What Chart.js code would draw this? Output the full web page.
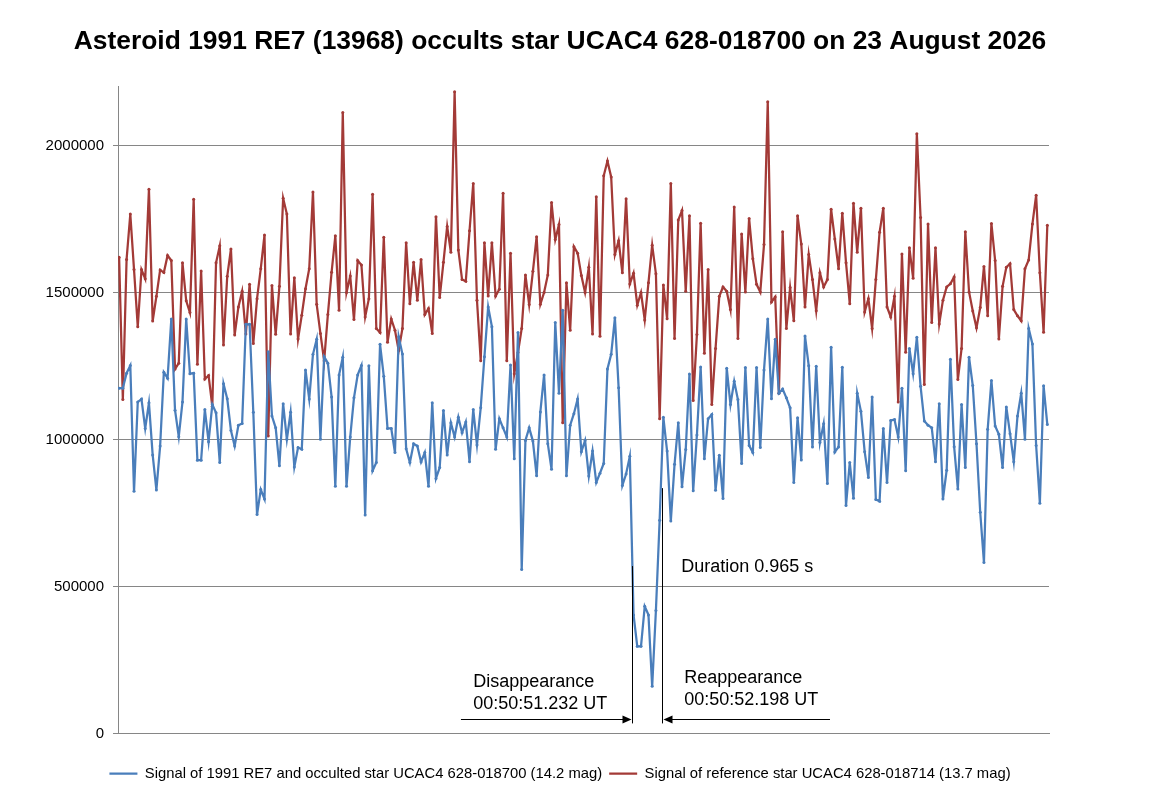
<!DOCTYPE html>
<html>
<head>
<meta charset="utf-8">
<title>1991 RE7 occultation</title>
<script src="https://cdn.jsdelivr.net/npm/chart.js@4.4.1/dist/chart.umd.min.js"></script>
<style>
  html, body { margin: 0; padding: 0; background: #fff; }
  #wrap { width: 1150px; height: 808px; }
</style>
</head>
<body>
<div id="wrap"><canvas id="chart"></canvas></div>
<script>
// ===== 数据 =====
const chartTitle = 'Asteroid 1991 RE7 (13968) occults star UCAC4 628-018700 on 23 August 2026';
const targetLabel = 'Signal of 1991 RE7 and occulted star UCAC4 628-018700 (14.2 mag)';
const refLabel = 'Signal of reference star UCAC4 628-018714 (13.7 mag)';

// 目标星 + 小行星 (蓝)
const targetSignal = [
  1175000, 1175000, 1226000, 1252000, 824000, 1128000, 1138000, 1038000, 1125000, 948000,
  829000, 978000, 1229000, 1209000, 1410000, 1100000, 1010000, 1128000, 1410000, 1224000,
  1226000, 930000, 930000, 1102000, 993000, 1119000, 1091000, 922000, 1190000, 1139000,
  1031000, 978000, 1049000, 1055000, 1392000, 1392000, 1093000, 745000, 830000, 798000,
  1299000, 1080000, 1040000, 911000, 1122000, 1001000, 1093000, 907000, 973000, 967000,
  1237000, 1138000, 1290000, 1341000, 1001000, 1282000, 1260000, 1145000, 841000, 1220000,
  1280000, 841000, 1009000, 1142000, 1220000, 1252000, 744000, 1251000, 894000, 922000,
  1324000, 1215000, 1038000, 1038000, 956000, 1350000, 1291000, 969000, 922000, 986000,
  978000, 924000, 956000, 841000, 1125000, 868000, 905000, 1099000, 948000, 1057000,
  1009000, 1076000, 1023000, 1060000, 925000, 1102000, 982000, 1108000, 1282000, 1451000,
  1384000, 967000, 1071000, 1040000, 1009000, 1254000, 935000, 1364000, 558000, 997000,
  1040000, 995000, 877000, 1094000, 1220000, 986000, 899000, 1398000, 1158000, 1440000,
  877000, 1049000, 1088000, 1138000, 959000, 997000, 876000, 961000, 854000, 886000,
  919000, 1240000, 1290000, 1414000, 1176000, 844000, 883000, 943000, 404000, 297000,
  297000, 433000, 404000, 161000, 419000, 726000, 1076000, 961000, 723000, 916000,
  1057000, 840000, 966000, 1223000, 826000, 1016000, 1247000, 935000, 1071000, 1085000,
  828000, 947000, 800000, 1243000, 1119000, 1198000, 1136000, 919000, 1245000, 980000,
  956000, 1245000, 973000, 1237000, 1410000, 1139000, 1341000, 1158000, 1172000, 1142000,
  1108000, 854000, 1074000, 931000, 1352000, 1251000, 975000, 1249000, 990000, 1054000,
  851000, 1314000, 958000, 975000, 1246000, 776000, 922000, 801000, 1158000, 1096000,
  959000, 871000, 1145000, 796000, 790000, 1038000, 854000, 1065000, 1068000, 1009000,
  1175000, 894000, 1310000, 1224000, 1348000, 1181000, 1063000, 1049000, 1040000, 925000,
  1122000, 798000, 896000, 1273000, 976000, 832000, 1119000, 905000, 1280000, 1184000,
  986000, 753000, 582000, 1035000, 1201000, 1046000, 1018000, 905000, 1111000, 1020000,
  925000, 1080000, 1158000, 1001000, 1378000, 1325000, 980000, 784000, 1183000, 1051000,
];

// 比较星 (红)
const refSignal = [
  1620000, 1136000, 1612000, 1767000, 1578000, 1384000, 1578000, 1547000, 1851000, 1403000,
  1487000, 1577000, 1568000, 1626000, 1609000, 1240000, 1260000, 1601000, 1472000, 1432000,
  1817000, 1256000, 1573000, 1206000, 1218000, 1113000, 1601000, 1659000, 1322000, 1555000,
  1648000, 1356000, 1451000, 1504000, 1359000, 1528000, 1327000, 1479000, 1581000, 1696000,
  1012000, 1524000, 1358000, 1521000, 1821000, 1767000, 1359000, 1550000, 1342000, 1423000,
  1513000, 1581000, 1842000, 1460000, 1361000, 1268000, 1425000, 1569000, 1693000, 1440000,
  2112000, 1500000, 1556000, 1408000, 1609000, 1594000, 1417000, 1479000, 1834000, 1378000,
  1364000, 1688000, 1331000, 1410000, 1372000, 1303000, 1378000, 1669000, 1462000, 1603000,
  1474000, 1612000, 1425000, 1446000, 1361000, 1758000, 1483000, 1603000, 1725000, 1637000,
  2183000, 1645000, 1544000, 1538000, 1710000, 1871000, 1474000, 1268000, 1669000, 1488000,
  1669000, 1488000, 1511000, 1838000, 1268000, 1634000, 1224000, 1296000, 1378000, 1560000,
  1459000, 1572000, 1690000, 1460000, 1500000, 1560000, 1806000, 1680000, 1731000, 1057000,
  1533000, 1372000, 1656000, 1634000, 1558000, 1500000, 1586000, 1359000, 1826000, 1351000,
  1897000, 1947000, 1893000, 1629000, 1676000, 1567000, 1819000, 1529000, 1566000, 1457000,
  1500000, 1407000, 1533000, 1661000, 1564000, 1071000, 1526000, 1411000, 1871000, 1344000,
  1747000, 1779000, 1504000, 1761000, 1133000, 1357000, 1736000, 1294000, 1578000, 1119000,
  1310000, 1487000, 1519000, 1504000, 1442000, 1791000, 1344000, 1699000, 1502000, 1752000,
  1615000, 1528000, 1502000, 1663000, 2149000, 1468000, 1485000, 1158000, 1707000, 1378000,
  1517000, 1404000, 1761000, 1665000, 1451000, 1629000, 1544000, 1438000, 1567000, 1519000,
  1544000, 1783000, 1682000, 1581000, 1770000, 1601000, 1462000, 1804000, 1637000, 1787000,
  1434000, 1479000, 1378000, 1544000, 1705000, 1787000, 1451000, 1417000, 1487000, 1128000,
  1631000, 1297000, 1652000, 1549000, 2040000, 1755000, 1187000, 1733000, 1398000, 1652000,
  1393000, 1474000, 1519000, 1530000, 1553000, 1204000, 1310000, 1707000, 1502000, 1437000,
  1380000, 1449000, 1589000, 1421000, 1735000, 1609000, 1342000, 1521000, 1586000, 1598000,
  1442000, 1421000, 1404000, 1581000, 1611000, 1733000, 1831000, 1567000, 1365000, 1729000,
];

// 帧序号
const frames = targetSignal.map((_, i) => i);

const yTicks = [0, 500000, 1000000, 1500000, 2000000];

// 掩星事件 (帧序号，可为小数)
const disappearFrame = 137.7;
const reappearFrame = 145.7;
const disappearText = ['Disappearance', '00:50:51.232 UT'];
const reappearText = ['Reappearance', '00:50:52.198 UT'];
const durationText = 'Duration 0.965 s';

// ===== 样式 =====
const FONT = '"Liberation Sans", Arial, sans-serif';
const BLUE = '#4a7ebb';
const RED = '#a33a37';
const GRID = '#868686';
const LINE_W = 2.25;

// 掩星标注：两条竖线、箭头和文字
const occultNotes = {
  id: 'occultNotes',
  afterDatasetsDraw(chart) {
    const { ctx, scales: { x, y } } = chart;
    const xd = Math.round(x.getPixelForValue(disappearFrame)) + 0.5;
    const xr = Math.round(x.getPixelForValue(reappearFrame)) + 0.5;
    const yBase = y.getPixelForValue(35000);
    const yArrow = Math.round(y.getPixelForValue(51000)) + 0.5;

    ctx.save();
    ctx.strokeStyle = '#000';
    ctx.fillStyle = '#000';
    ctx.lineWidth = 1;

    ctx.beginPath();
    ctx.moveTo(xd, y.getPixelForValue(570000));
    ctx.lineTo(xd, yBase);
    ctx.moveTo(xr, y.getPixelForValue(835000));
    ctx.lineTo(xr, yBase);
    // 水平箭头线
    ctx.moveTo(x.getPixelForValue(91.7), yArrow);
    ctx.lineTo(xd - 8, yArrow);
    ctx.moveTo(x.getPixelForValue(190.7), yArrow);
    ctx.lineTo(xr + 8, yArrow);
    ctx.stroke();

    // 箭头
    ctx.beginPath();
    ctx.moveTo(xd - 1, yArrow);
    ctx.lineTo(xd - 10, yArrow - 4);
    ctx.lineTo(xd - 10, yArrow + 4);
    ctx.closePath();
    ctx.moveTo(xr + 1, yArrow);
    ctx.lineTo(xr + 10, yArrow - 4);
    ctx.lineTo(xr + 10, yArrow + 4);
    ctx.closePath();
    ctx.fill();

    ctx.font = '18px ' + FONT;
    ctx.textAlign = 'left';
    ctx.textBaseline = 'middle';
    ctx.fillText(disappearText[0], x.getPixelForValue(95.0), y.getPixelForValue(177000));
    ctx.fillText(disappearText[1], x.getPixelForValue(95.0), y.getPixelForValue(102000));
    ctx.fillText(reappearText[0], x.getPixelForValue(151.6), y.getPixelForValue(190000));
    ctx.fillText(reappearText[1], x.getPixelForValue(151.6), y.getPixelForValue(116000));
    ctx.fillText(durationText, x.getPixelForValue(150.8), y.getPixelForValue(568000));
    ctx.restore();
  },
};

function lineSet(label, data, color) {
  return {
    label,
    data,
    borderColor: color,
    backgroundColor: color,
    borderWidth: LINE_W,
    pointRadius: 1.5,
    pointBorderWidth: 0,
    pointBackgroundColor: color,
    tension: 0,
  };
}

// 图例用线段，线宽取折线本身的宽度
function legendLabels(chart) {
  return Chart.defaults.plugins.legend.labels.generateLabels(chart).map((l) => ({
    ...l,
    lineWidth: LINE_W,
    strokeStyle: chart.data.datasets[l.datasetIndex].borderColor,
    pointStyle: 'line',
  }));
}

// ===== 图表 =====
new Chart(document.getElementById('chart'), {
  type: 'line',
  data: {
    labels: frames,
    datasets: [
      lineSet(targetLabel, targetSignal, BLUE),
      lineSet(refLabel, refSignal, RED),
    ],
  },
  plugins: [occultNotes],
  options: {
    responsive: true,
    maintainAspectRatio: false,
    animation: false,
    layout: { padding: { left: 0, right: 30, top: 0, bottom: 17 } },
    plugins: {
      title: {
        display: true,
        text: chartTitle,
        color: '#000',
        font: { family: FONT, size: 26.4, weight: 'bold' },
        padding: { top: 26, bottom: 29 },
      },
      legend: {
        position: 'bottom',
        labels: {
          color: '#000',
          font: { family: FONT, size: 14.8 },
          usePointStyle: true,
          pointStyle: 'line',
          pointStyleWidth: 28,
          padding: 7,
          generateLabels: legendLabels,
        },
      },
      tooltip: { enabled: false },
    },
    scales: {
      x: {
        type: 'linear',
        min: -0.3,
        max: frames.length - 0.55,
        ticks: { display: false },
        grid: { display: false, drawTicks: false },
        border: { display: true, color: GRID, width: 1 },
        afterFit(s) { s.height = 25.5; },
      },
      y: {
        min: 0,
        max: 2200000,
        ticks: {
          stepSize: 500000,
          color: '#000',
          padding: 9,
          font: { family: FONT, size: 15 },
          callback: (v) => String(v),
        },
        grid: { color: GRID, lineWidth: 1, tickLength: 5 },
        border: { display: true, color: GRID, width: 1 },
        afterBuildTicks(s) {
          s.ticks = yTicks.map((v) => ({ value: v }));
        },
        afterFit(s) { s.width = 118; },
      },
      // 右侧留白
      yPad: {
        position: 'right',
        display: true,
        ticks: { display: false },
        grid: { display: false, drawTicks: false },
        border: { display: false },
        afterFit(s) { s.width = 71; },
      },
    },
  },
});
</script>
</body>
</html>
